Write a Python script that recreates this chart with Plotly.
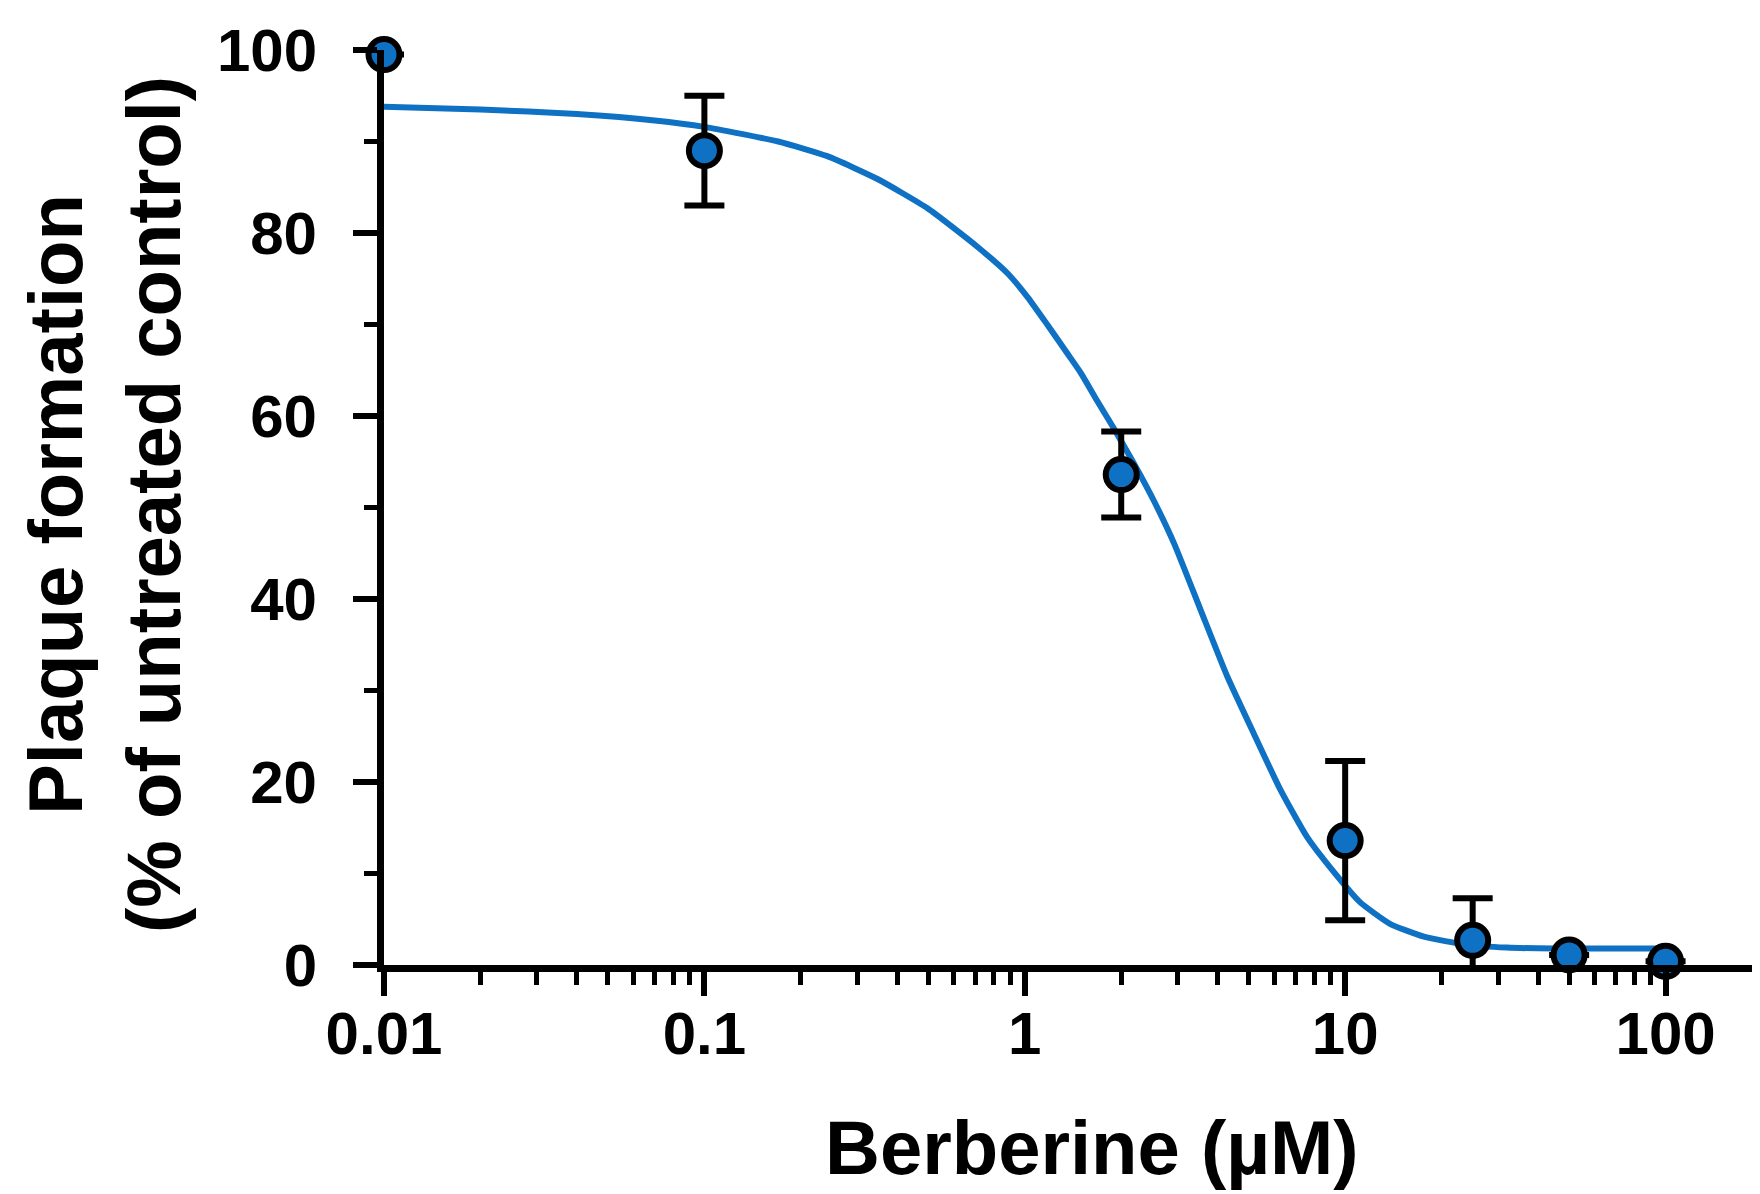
import plotly.graph_objects as go

# ---- data ----
conc = [0.01, 0.1, 2, 10, 25, 50, 100]
plaque = [99.5, 89.0, 53.6, 13.6, 2.7, 1.1, 0.4]
plaque_err = [0.0, 6.0, 4.7, 8.7, 4.6, 0.0, 0.0]

# fitted dose-response curve
fit_x = [0.01, 0.02, 0.04, 0.07, 0.1, 0.17, 0.242, 0.347, 0.497, 0.711,
         0.883, 1.02, 1.175, 1.36, 1.49, 1.68, 1.9, 2.2, 2.54, 2.93, 3.53,
         4.29, 5.2, 6.27, 7.6, 9.2, 11.1, 13.8, 17.6, 24.0, 32.0, 45.0, 100.0]
fit_y = [93.8, 93.5, 93.0, 92.3, 91.6, 90.0, 88.4, 85.9, 82.7, 78.5,
         75.6, 73.0, 70.0, 66.8, 64.8, 61.7, 58.6, 54.7, 50.6, 46.0, 38.9,
         31.5, 25.2, 19.2, 14.0, 10.2, 6.9, 4.5, 3.1, 2.2, 1.9, 1.8, 1.8]

x_tickvals = [0.01, 0.1, 1, 10, 100]
x_ticktext = ["0.01", "0.1", "1", "10", "100"]
x_minor = [m * d for d in [0.01, 0.1, 1, 10] for m in range(2, 10)] + [200]
y_tickvals = [0, 20, 40, 60, 80, 100]
y_minor = [10, 30, 50, 70, 90]

x_title = "Berberine (µM)"
y_title = "Plaque formation<br>(% of untreated control)"

BLUE = "#0f71c4"
FAMILY = "Liberation Sans, Arial, Helvetica, sans-serif"
TICKFONT = dict(family=FAMILY, size=60, color="black", weight="bold")
TITLEFONT = dict(family=FAMILY, size=76, color="black", weight="bold")

fig = go.Figure()
fig.add_trace(go.Scatter(
    x=fit_x, y=fit_y, mode="lines",
    line=dict(color=BLUE, width=6, shape="spline", smoothing=0.5),
    hoverinfo="skip", showlegend=False, cliponaxis=False,
))
fig.add_trace(go.Scatter(
    x=conc, y=plaque, mode="markers",
    marker=dict(color=BLUE, size=31, line=dict(color="black", width=6)),
    error_y=dict(type="data", array=plaque_err, color="black", thickness=6, width=20),
    showlegend=False, cliponaxis=False,
))

fig.update_xaxes(
    type="log", range=[-2, 2.301],
    showline=True, linecolor="black", linewidth=7,
    showgrid=False, zeroline=False,
    tickvals=x_tickvals, ticktext=x_ticktext,
    ticks="outside", ticklen=24, tickwidth=6, tickcolor="black",
    tickfont=TICKFONT, ticklabelstandoff=-14,
    minor=dict(tickvals=x_minor, ticks="outside", ticklen=13, tickwidth=5,
               tickcolor="black", showgrid=False),
)
fig.update_yaxes(
    range=[0, 100],
    showline=True, linecolor="black", linewidth=7,
    showgrid=False, zeroline=False,
    tickvals=y_tickvals,
    ticks="outside", ticklen=24, tickwidth=6, tickcolor="black",
    tickfont=TICKFONT, ticklabelstandoff=24,
    minor=dict(tickvals=y_minor, ticks="outside", ticklen=13, tickwidth=5,
               tickcolor="black", showgrid=False),
)

fig.add_annotation(text=x_title, xref="paper", yref="paper", x=0.514, y=-0.199,
                   xanchor="center", yanchor="middle", showarrow=False, font=TITLEFONT)
fig.add_annotation(text=y_title, xref="paper", yref="paper", x=-0.203, y=0.503,
                   xanchor="center", yanchor="middle", textangle=-90, showarrow=False,
                   font=TITLEFONT)

fig.update_layout(
    width=1760, height=1194,
    margin=dict(l=376, r=6, t=42, b=237),
    paper_bgcolor="white", plot_bgcolor="white",
)

fig.write_html("out.html")
